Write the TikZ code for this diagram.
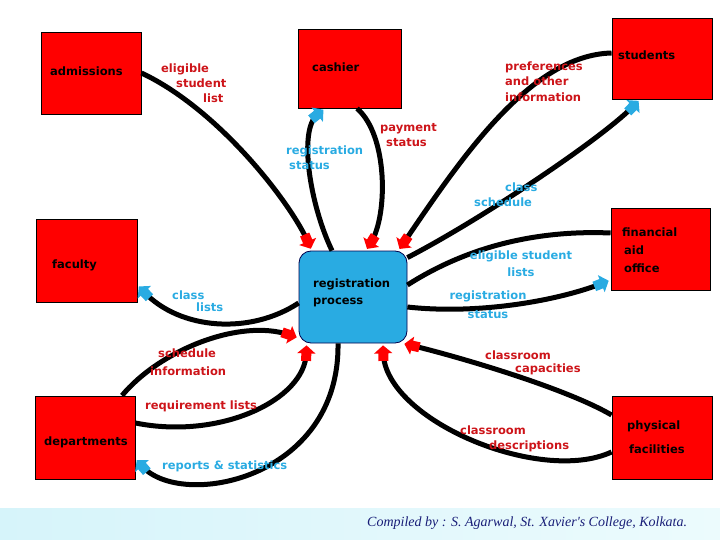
\documentclass[tikz,border=0pt]{standalone}
\usepackage{fontspec}
\newfontfamily\pixfont{DejaVu Sans}
\newfontfamily\footfont{Liberation Serif}
\usetikzlibrary{arrows.meta}
\definecolor{boxred}{RGB}{255,0,0}
\definecolor{labred}{RGB}{205,20,25}
\definecolor{skyb}{RGB}{41,171,226}
\definecolor{navyt}{RGB}{25,30,120}
\definecolor{bandl}{RGB}{214,244,250}
\definecolor{bandr}{RGB}{236,251,253}
\tikzset{
  ebox/.style={draw=black, line width=0.9pt, fill=boxred, inner sep=0pt},
  proc/.style={draw=black!70!blue, line width=0.8pt, fill=skyb, rounded corners=12pt, inner sep=0pt},
  flow/.style={line width=5pt, draw=black},
  inarr/.style={flow, -{Rectangle[length=8pt,width=10pt,color=boxred,sep=-0.5pt]Triangle[length=8pt,width=18pt,color=boxred]}, shorten >=2pt},
  outarr/.style={flow, -{Rectangle[length=8pt,width=10pt,color=skyb,sep=-0.5pt]Triangle[length=8pt,width=18pt,color=skyb]}, shorten >=2pt},
  txt/.style={font=\pixfont\bfseries\fontsize{11.5}{#1}\selectfont, inner sep=0pt, anchor=west, align=left},
  txt/.default=15,
  btxt/.style={txt=#1, text=black},
  btxt/.default=15,
  rlab/.style={txt=#1, text=labred},
  rlab/.default=15,
  blab/.style={txt=#1, text=skyb},
  blab/.default=15,
}
\begin{document}
\begin{tikzpicture}[x=1pt,y=-1pt]
\useasboundingbox (0,0) rectangle (720,540);
% footer band
\shade[left color=bandl, right color=bandr] (0,508) rectangle (720,540);
\node[font=\footfont\itshape\fontsize{14}{16}\selectfont, text=navyt, anchor=base west, inner sep=0pt] (foot) at (367,526) {Compiled by : S. Agarwal, St. Xavier's College, Kolkata.};

% boxes
\node[ebox, minimum width=100pt, minimum height=82pt] (adm) at (91,73) {};
\node[ebox, minimum width=103pt, minimum height=79pt] (cash) at (349.5,68.5) {};
\node[ebox, minimum width=100pt, minimum height=81pt] (stu) at (662,58.5) {};
\node[ebox, minimum width=101pt, minimum height=83pt] (fac) at (86.5,260.5) {};
\node[ebox, minimum width=99pt, minimum height=82pt] (fin) at (660.5,249) {};
\node[ebox, minimum width=100pt, minimum height=83pt] (dep) at (85,437.5) {};
\node[ebox, minimum width=100pt, minimum height=83pt] (phy) at (662,437.5) {};
\node[proc, minimum width=108pt, minimum height=92pt] (reg) at (353,297) {};

% connectors
\draw[inarr] (adm.east) .. controls (220,110) and (292,205) .. ([xshift=13pt]reg.north west);
\draw[inarr] ([xshift=7.5pt]cash.south) .. controls (388,135) and (388,215) .. ([xshift=13pt]reg.north);
\draw[outarr] ([xshift=-21pt]reg.north) .. controls (310,205) and (298,130) .. ([xshift=-24.5pt]cash.south);
\draw[inarr] ([yshift=5.5pt]stu.west) .. controls (530,55) and (460,160) .. ([xshift=-9pt]reg.north east);
\draw[outarr] ([yshift=-7pt]reg.north east) .. controls (480,220) and (600,140) .. ([xshift=-22pt]stu.south);
\draw[flow] ([yshift=12pt]reg.east) .. controls (470,245) and (540,230) .. ([yshift=16pt]fin.west);
\draw[outarr] ([yshift=-10pt]reg.east) .. controls (480,315) and (560,300) .. ([yshift=-31pt]fin.west);
\draw[inarr] ([yshift=22.5pt]phy.west) .. controls (560,385) and (440,352) .. ([xshift=-5pt]reg.south east);
\draw[inarr] ([yshift=-14.5pt]phy.west) .. controls (540,485) and (385,420) .. ([xshift=30pt]reg.south);
\draw[outarr] ([yshift=-6pt]reg.west) .. controls (250,335) and (180,330) .. ([yshift=-24.5pt]fac.east);
\draw[inarr] ([xshift=37pt]dep.north) .. controls (160,350) and (240,318) .. ([yshift=-41pt]reg.west);
\draw[inarr] ([yshift=14.5pt]dep.east) .. controls (220,440) and (305,400) .. ([xshift=8pt]reg.south west);
\draw[outarr] ([xshift=-15pt]reg.south) .. controls (340,480) and (180,510) .. ([yshift=-21pt]dep.east);

% box texts
\node[btxt] (admT) at (50,71) {admissions};
\node[btxt] (cashT) at (312,67) {cashier};
\node[btxt] (stuT) at (618,55) {students};
\node[btxt] (facT) at (52,265) {faculty};
\node[btxt=18] (finT) at (622,250) {financial\\\hspace*{2pt}aid\\\hspace*{2pt}office};
\node[btxt] (depT) at (44,442) {departments};
\node[btxt=24] (phyT) at (627,437) {physical\\\hspace*{2pt}facilities};
\node[btxt=17] (regT) at (313,292.5) {registration\\process};

% red labels
\node[rlab=15] (l1) at (161,83) {eligible\\\hspace*{15pt}student\\\hspace*{42pt}list};
\node[rlab=15] (l2) at (380,135.5) {payment\\\hspace*{6pt}status};
\node[rlab=15.5] (l3) at (505,81.5) {preferences\\and other\\information};
\node[rlab=18] (l4) at (150,362) {\hspace*{8pt}schedule\\information};
\node[rlab] (l5) at (145,406) {requirement lists};
\node[rlab=12.5] (l6) at (485,363) {classroom\\\hspace*{30pt}capacities};
\node[rlab=15] (l7) at (460,438.5) {classroom\\\hspace*{29pt}descriptions};

% blue labels
\node[blab=15] (b1) at (286,157.5) {registration\\\hspace*{3pt}status};
\node[blab=15] (b2) at (474,194.5) {\hspace*{31pt}class\\schedule};
\node[blab=17, anchor=center, align=center] (b3) at (521,263.5) {eligible student\\lists};
\node[blab=19, anchor=center, align=center] (b4) at (488,304.5) {registration\\status};
\node[blab=12.5] (b5) at (172,301) {class\\\hspace*{24pt}lists};
\node[blab] (b6) at (162,466) {reports \& statistics};
\end{tikzpicture}
\end{document}
